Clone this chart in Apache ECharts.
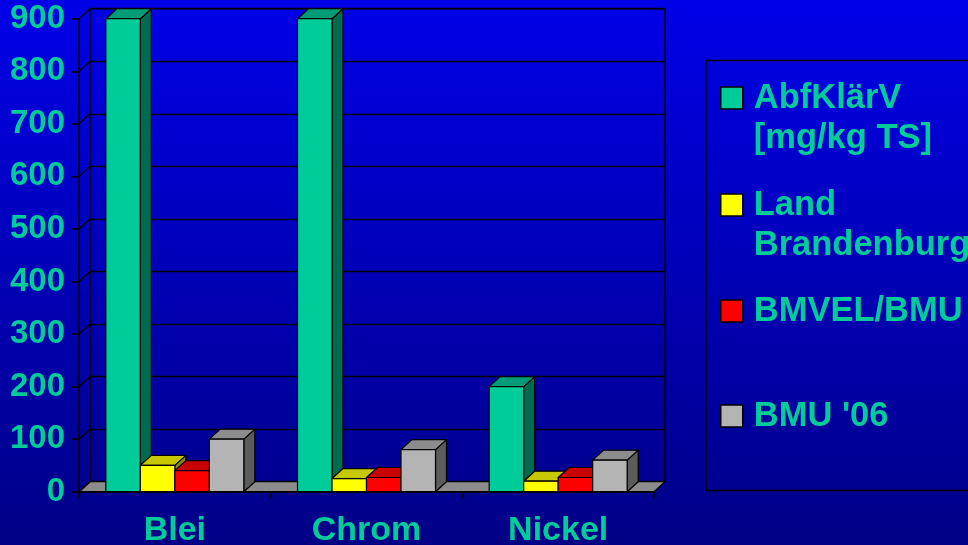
<!DOCTYPE html>
<html>
<head>
<meta charset="utf-8">
<script src="https://cdn.jsdelivr.net/npm/echarts@6/dist/echarts.min.js"></script>
<style>
html,body{margin:0;padding:0;}
#chart{width:968px;height:545px;}
</style>
</head>
<body>
<div id="chart"></div>
<script>
// ---- data ----
const categories = ['Blei', 'Chrom', 'Nickel'];
const seriesNames = ['AbfKlärV\n[mg/kg TS]', 'Land\nBrandenburg', 'BMVEL/BMU', "BMU '06"];
const abfklaerv = [900, 900, 200];
const landBrandenburg = [50, 25, 20];
const bmvelBmu = [40, 27, 27];
const bmu06 = [100, 80, 60];
const yTicks = [0, 100, 200, 300, 400, 500, 600, 700, 800, 900];

// ---- styling ----
const FONT = '"Liberation Sans", Arial, sans-serif';
const TXT = '#00CC99';
const DX = 11, DY = -10;
const LH = 40;
const faces = [
  {front: '#00CC99', side: '#006B50', top: '#009C78'},
  {front: '#FFFF00', side: '#8C8C00', top: '#C8C800'},
  {front: '#FF0000', side: '#8C0000', top: '#C80000'},
  {front: '#B4B4B4', side: '#5C5C5C', top: '#8C8C8C'}
];
const allValues = [abfklaerv, landBrandenburg, bmvelBmu, bmu06];
const legendCenters = [98, 205, 311, 416];

const chart = echarts.init(document.getElementById('chart'), null, {renderer: 'canvas'});

function barSeries(si) {
  return {
    type: 'custom',
    name: seriesNames[si],
    xAxisIndex: 0, yAxisIndex: 0,
    z: 3 + si,
    itemStyle: {color: faces[si].front},
    data: allValues[si].map((v, i) => [i, v]),
    renderItem: function (params, api) {
      const catW = api.size([1, 0])[0];
      const bw = catW * 0.18;
      const c = api.coord([api.value(0), api.value(1)]);
      const b = api.coord([api.value(0), 0]);
      const x = c[0] + (si - 1.5) * bw - bw / 2;
      const top = c[1], bot = b[1];
      const stroke = {stroke: '#000', lineWidth: 1.2, lineJoin: 'round'};
      return {
        type: 'group',
        children: [
          {type: 'polygon', shape: {points: [[x + bw, top], [x + bw + DX, top + DY], [x + bw + DX, bot + DY], [x + bw, bot]]},
           style: Object.assign({fill: faces[si].side}, stroke)},
          {type: 'polygon', shape: {points: [[x, top], [x + DX, top + DY], [x + bw + DX, top + DY], [x + bw, top]]},
           style: Object.assign({fill: faces[si].top}, stroke)},
          {type: 'rect', shape: {x: x, y: top, width: bw, height: bot - top},
           style: Object.assign({fill: faces[si].front}, stroke)}
        ]
      };
    }
  };
}

const legends = seriesNames.map((n, i) => {
  const twoLine = n.indexOf('\n') >= 0;
  return {
    show: true,
    orient: 'vertical',
    left: 720,
    top: legendCenters[i] - (twoLine ? 1.5 * LH : 0.5 * LH),
    padding: 0,
    itemWidth: 22,
    itemHeight: 22,
    icon: 'rect',
    selectedMode: false,
    itemStyle: {borderColor: '#000', borderWidth: 1.5},
    formatter: twoLine ? (name => '\n' + name) : (name => name),
    textStyle: {
      color: TXT, fontSize: 34.5, fontWeight: 'bold', fontFamily: FONT, lineHeight: LH,
      padding: [0, 0, 0, 6]
    },
    data: [n]
  };
});

const option = {
  animation: false,
  backgroundColor: {
    type: 'linear', x: 0, y: 0, x2: 0, y2: 1,
    colorStops: [{offset: 0, color: '#0000E8'}, {offset: 1, color: '#000086'}]
  },
  graphic: [{
    type: 'rect', shape: {x: 706, y: 60.5, width: 290, height: 430},
    style: {fill: 'none', stroke: '#000', lineWidth: 1.5}, z: 1
  }],
  legend: legends,
  grid: [
    {left: 79, top: 18.7, width: 575, height: 473, show: false,
     containLabel: false, outerBoundsMode: 'none'},
    {left: 79 + DX, top: 18.7 + DY, width: 575, height: 473, show: true,
     containLabel: false, outerBoundsMode: 'none',
     borderColor: '#000', borderWidth: 1.5, backgroundColor: 'transparent'}
  ],
  xAxis: [
    {type: 'category', gridIndex: 0, data: categories,
     axisLine: {lineStyle: {color: '#000', width: 1.5}},
     axisTick: {show: true, length: 7, lineStyle: {color: '#000', width: 1.5}},
     axisLabel: {color: TXT, fontSize: 34, fontWeight: 'bold', fontFamily: FONT, margin: 22}},
    {type: 'category', gridIndex: 1, data: categories, show: false}
  ],
  yAxis: [
    {type: 'value', gridIndex: 0, min: 0, max: 900, interval: 100,
     axisLine: {show: true, lineStyle: {color: '#000', width: 1.5}},
     axisTick: {show: true, length: 7, lineStyle: {color: '#000', width: 1.5}},
     splitLine: {show: false},
     axisLabel: {color: TXT, fontSize: 33, fontWeight: 'bold', fontFamily: FONT, margin: 14}},
    {type: 'value', gridIndex: 1, min: 0, max: 900, interval: 100,
     axisLine: {show: false}, axisTick: {show: false}, axisLabel: {show: false},
     splitLine: {show: true, lineStyle: {color: '#000', width: 1.3}}}
  ],
  series: [
    {
      type: 'custom', name: 'floor', xAxisIndex: 0, yAxisIndex: 0, z: 1,
      data: [[0, 0]], silent: true,
      renderItem: function (params, api) {
        const cs = params.coordSys;
        const y0 = api.coord([0, 0])[1];
        return {
          type: 'polygon',
          shape: {points: [[cs.x, y0], [cs.x + cs.width, y0], [cs.x + cs.width + DX, y0 + DY], [cs.x + DX, y0 + DY]]},
          style: {fill: '#8C8C8C', stroke: '#000', lineWidth: 1.3}
        };
      }
    },
    {
      type: 'custom', name: 'sidewall', xAxisIndex: 0, yAxisIndex: 0, z: 2,
      data: yTicks.map(v => [0, v]), silent: true,
      renderItem: function (params, api) {
        const cs = params.coordSys;
        const y = api.coord([0, api.value(1)])[1];
        return {
          type: 'line',
          shape: {x1: cs.x, y1: y, x2: cs.x + DX, y2: y + DY},
          style: {stroke: '#000', lineWidth: 1.3}
        };
      }
    },
    barSeries(0), barSeries(1), barSeries(2), barSeries(3)
  ]
};
chart.setOption(option);
</script>
</body>
</html>
